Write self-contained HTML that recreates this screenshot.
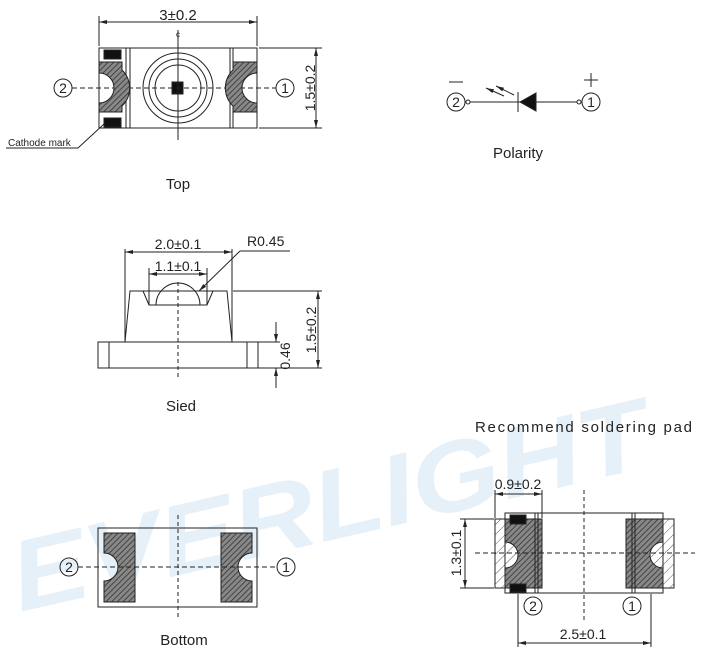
<!DOCTYPE html>
<html><head><meta charset="utf-8"><style>
html,body{margin:0;padding:0;background:#fff;}
svg{display:block;font-family:"Liberation Sans",sans-serif;}
</style></head><body>
<svg width="711" height="667" viewBox="0 0 711 667" xmlns="http://www.w3.org/2000/svg">
<defs>
<pattern id="h" width="4" height="4" patternUnits="userSpaceOnUse" patternTransform="rotate(45)">
<rect width="4" height="4" fill="#888"/><line x1="0" y1="0" x2="0" y2="4" stroke="#333" stroke-width="1.6"/></pattern>
<pattern id="hl" width="7" height="7" patternUnits="userSpaceOnUse" patternTransform="rotate(45)">
<line x1="0" y1="0" x2="0" y2="7" stroke="#333" stroke-width="0.8"/></pattern>
<marker id="a" markerWidth="8" markerHeight="6" refX="8" refY="3" orient="auto-start-reverse" markerUnits="userSpaceOnUse"><path d="M0,1 L8,3 L0,5z" fill="#222"/></marker>
</defs>
<!-- watermark -->
<text x="0" y="0" transform="translate(20,612) rotate(-13)" font-size="100" font-weight="bold" font-style="italic" fill="#e6f0f8" textLength="650" lengthAdjust="spacingAndGlyphs">EVERLIGHT</text>

<g stroke="#222" fill="none" stroke-width="1">
<!-- TOP VIEW -->
<line x1="99" y1="16" x2="99" y2="46"/><line x1="257" y1="16" x2="257" y2="46"/>
<line x1="99" y1="22" x2="257" y2="22" marker-start="url(#a)" marker-end="url(#a)"/>
<rect x="99" y="48" width="158" height="80"/>
<line x1="126" y1="48" x2="126" y2="128"/><line x1="130" y1="48" x2="130" y2="128"/>
<line x1="230" y1="48" x2="230" y2="128"/><line x1="233" y1="48" x2="233" y2="128"/>
<circle cx="178" cy="88" r="35"/><circle cx="178" cy="88" r="29"/><circle cx="178" cy="88" r="23"/>
<rect x="172" y="82" width="11" height="12" fill="#111"/>
<line x1="178" y1="30" x2="178" y2="140"/>
<line x1="72" y1="88" x2="276" y2="88" stroke-dasharray="5,3"/>
<rect x="104" y="50" width="17" height="9" fill="#111"/><rect x="104" y="118" width="17" height="9" fill="#111"/>
<path d="M99,62 L122,62 L122,70 A25,25 0 0 1 122,106 L122,112 L99,112 L99,103 A15,15 0 0 0 99,73 Z" fill="url(#h)"/>
<path d="M257,62 L233,62 L233,70 A25,25 0 0 0 233,106 L233,112 L257,112 L257,103 A15,15 0 0 1 257,73 Z" fill="url(#h)"/>
<circle cx="63" cy="88" r="9"/><circle cx="285" cy="88" r="9"/>
<line x1="259" y1="48" x2="322" y2="48"/><line x1="259" y1="128" x2="322" y2="128"/>
<line x1="316" y1="48" x2="316" y2="128" marker-start="url(#a)" marker-end="url(#a)"/>
<polyline points="6,148 78,148 104,124"/>

<!-- POLARITY -->
<circle cx="456" cy="102" r="9"/><circle cx="591" cy="102" r="9"/>
<circle cx="468" cy="102" r="2"/><circle cx="579" cy="102" r="2"/>
<line x1="470" y1="102" x2="577" y2="102"/>
<path d="M536,93 L536,111 L520,102 Z" fill="#111"/>
<line x1="518" y1="92" x2="518" y2="112"/>
<line x1="449" y1="82" x2="463" y2="82"/>
<line x1="584" y1="80" x2="598" y2="80"/><line x1="591" y1="73" x2="591" y2="87"/>
<line x1="504" y1="96" x2="486" y2="88" marker-end="url(#a)"/><line x1="514" y1="95" x2="496" y2="86" marker-end="url(#a)"/>

<!-- SIDE VIEW -->
<line x1="125" y1="249" x2="125" y2="342"/><line x1="232" y1="249" x2="232" y2="342"/>
<line x1="125" y1="252" x2="232" y2="252" marker-start="url(#a)" marker-end="url(#a)"/>
<line x1="149" y1="268" x2="149" y2="305"/><line x1="207" y1="268" x2="207" y2="305"/>
<line x1="149" y1="274" x2="207" y2="274" marker-start="url(#a)" marker-end="url(#a)"/>
<path d="M130,291 L227,291 L232,342 L125,342 Z"/>
<path d="M143,291 L149,305 L207,305 L213,291"/>
<path d="M156,305 A22,22 0 0 1 200,305"/>
<line x1="178" y1="282" x2="178" y2="378" stroke-dasharray="4,3"/>
<line x1="290" y1="251" x2="240" y2="251"/><line x1="240" y1="251" x2="199" y2="291" marker-end="url(#a)"/>
<rect x="98" y="342" width="160" height="26"/>
<line x1="109" y1="342" x2="109" y2="368"/><line x1="247" y1="342" x2="247" y2="368"/>
<line x1="233" y1="291" x2="322" y2="291"/><line x1="258" y1="368" x2="322" y2="368"/>
<line x1="318" y1="291" x2="318" y2="368" marker-start="url(#a)" marker-end="url(#a)"/>
<line x1="258" y1="342" x2="280" y2="342"/>
<line x1="276" y1="322" x2="276" y2="342" marker-end="url(#a)"/><line x1="276" y1="388" x2="276" y2="368" marker-end="url(#a)"/>

<!-- BOTTOM VIEW -->
<rect x="98" y="528" width="159" height="79"/>
<path d="M104,533 L135,533 L135,602 L104,602 L104,581 A14,14 0 0 0 104,553 Z" fill="url(#h)"/>
<path d="M252,533 L221,533 L221,602 L252,602 L252,581 A14,14 0 0 1 252,553 Z" fill="url(#h)"/>
<line x1="178" y1="515" x2="178" y2="620" stroke-dasharray="4,3"/>
<line x1="78" y1="567" x2="276" y2="567" stroke-dasharray="5,3"/>
<circle cx="69" cy="567" r="9"/><circle cx="286" cy="567" r="9"/>

<!-- SOLDER PAD -->
<rect x="505" y="513" width="158" height="80"/>
<rect x="495" y="519" width="47" height="69" fill="url(#hl)"/>
<rect x="626" y="519" width="48" height="69" fill="url(#hl)"/>
<path d="M505,519 L542,519 L542,588 L505,588 L505,568 A12,12 0 0 0 505,542 Z" fill="url(#h)"/>
<path d="M663,519 L626,519 L626,588 L663,588 L663,568 A12,12 0 0 1 663,542 Z" fill="url(#h)"/>
<line x1="535" y1="513" x2="535" y2="593"/><line x1="538" y1="513" x2="538" y2="593"/>
<line x1="632" y1="513" x2="632" y2="593"/><line x1="635" y1="513" x2="635" y2="593"/>
<rect x="510" y="515" width="16" height="9" fill="#111"/><rect x="510" y="584" width="16" height="8" fill="#111"/>
<line x1="475" y1="553" x2="695" y2="553" stroke-dasharray="5,3"/>
<line x1="584" y1="490" x2="584" y2="620" stroke-dasharray="4,3"/>
<line x1="495" y1="490" x2="495" y2="518"/><line x1="542" y1="490" x2="542" y2="518"/>
<line x1="495" y1="494" x2="542" y2="494" marker-start="url(#a)" marker-end="url(#a)"/>
<line x1="460" y1="519" x2="494" y2="519"/><line x1="460" y1="588" x2="494" y2="588"/>
<line x1="465" y1="519" x2="465" y2="588" marker-start="url(#a)" marker-end="url(#a)"/>
<line x1="518" y1="594" x2="518" y2="647"/><line x1="651" y1="594" x2="651" y2="647"/>
<line x1="518" y1="643" x2="651" y2="643" marker-start="url(#a)" marker-end="url(#a)"/>
<circle cx="533" cy="606" r="9"/><circle cx="632" cy="606" r="9"/>
</g>

<g fill="#222" font-size="14">
<text x="178" y="20" text-anchor="middle" font-size="15">3±0.2</text>
<text x="178" y="37" text-anchor="middle" font-size="8">c</text>
<text x="63" y="93" text-anchor="middle">2</text><text x="285" y="93" text-anchor="middle">1</text>
<text transform="translate(315,88) rotate(-90)" text-anchor="middle">1.5±0.2</text>
<text x="8" y="146" font-size="10">Cathode mark</text>
<text x="178" y="189" text-anchor="middle" font-size="15">Top</text>
<text x="456" y="107" text-anchor="middle">2</text><text x="591" y="107" text-anchor="middle">1</text>
<text x="518" y="158" text-anchor="middle" font-size="15">Polarity</text>
<text x="178" y="249" text-anchor="middle">2.0±0.1</text>
<text x="178" y="271" text-anchor="middle">1.1±0.1</text>
<text x="247" y="246">R0.45</text>
<text transform="translate(316,330) rotate(-90)" text-anchor="middle">1.5±0.2</text>
<text transform="translate(290,356) rotate(-90)" text-anchor="middle">0.46</text>
<text x="181" y="411" text-anchor="middle" font-size="15">Sied</text>
<text x="69" y="572" text-anchor="middle">2</text><text x="286" y="572" text-anchor="middle">1</text>
<text x="184" y="645" text-anchor="middle" font-size="15">Bottom</text>
<text x="475" y="432" font-size="15" textLength="217">Recommend soldering pad</text>
<text x="518" y="489" text-anchor="middle">0.9±0.2</text>
<text transform="translate(461,553) rotate(-90)" text-anchor="middle">1.3±0.1</text>
<text x="583" y="639" text-anchor="middle">2.5±0.1</text>
<text x="533" y="611" text-anchor="middle">2</text><text x="632" y="611" text-anchor="middle">1</text>
</g>
</svg>
</body></html>
